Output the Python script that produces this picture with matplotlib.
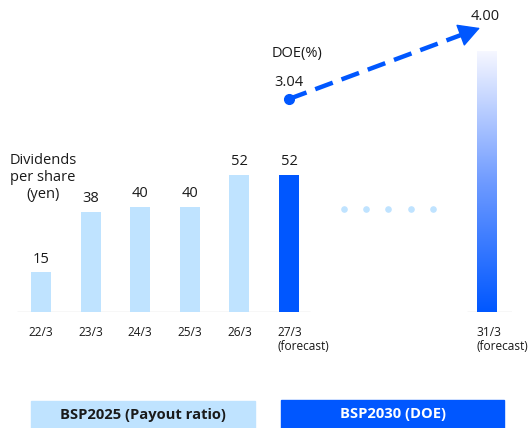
import numpy as np
import matplotlib
matplotlib.use("Agg")
from matplotlib import pyplot as plt
from matplotlib.colors import LinearSegmentedColormap
from matplotlib.patches import Rectangle

plt.rcParams['font.family'] = ['Open Sans', 'DejaVu Sans']

years = ["22/3", "23/3", "24/3", "25/3", "26/3", "27/3\n(forecast)"]
dividends = [15, 38, 40, 40, 52, 52]
target_label = "31/3\n(forecast)"
target_height = 99  # drawn height of the 2031 bar (no value shown)
doe_start = 3.04
doe_end = 4.00

blue = "#0057FF"
light = "#BFE3FF"

fig = plt.figure(figsize=(5.29, 4.28), dpi=100)
ax = fig.add_axes([17 / 529, 116 / 428, 495 / 529, 312 / 428])
ax.set_xlim(-0.484, 9.496)
ax.set_ylim(0, 118.4)
ax.axis("off")

x = np.arange(len(years))
colors = [light] * 5 + [blue]
ax.bar(x, dividends, width=0.4, color=colors, zorder=2)
for xi, v in zip(x, dividends):
    ax.annotate(str(v), (xi, v), xytext=(0, 4), textcoords="offset points",
                ha="center", va="bottom", fontsize=10.5, color="#1a1a1a")

# gradient bar for 31/3
x_t = 9
grad = np.linspace(0, 1, 256).reshape(-1, 1)
cmap = LinearSegmentedColormap.from_list("g", [blue, "#6f9bff", "#f6f7ff"])
ax.imshow(grad, cmap=cmap, aspect="auto", origin="lower",
          extent=(x_t - 0.2, x_t + 0.2, 0, target_height), zorder=2)

# baseline segments
ax.hlines(0, -0.484, 5.42, color="#d9d9d9", lw=1, zorder=1)
ax.hlines(0, 8.59, 9.5, color="#d9d9d9", lw=1, zorder=1)

# tick labels
for xi, lab in zip(x, years):
    if "\n" in lab:
        ax.annotate(lab, (xi - 0.24, 0), xytext=(0, -10), textcoords="offset points",
                    ha="left", va="top", fontsize=8.6, color="#1a1a1a", linespacing=1.15)
    else:
        ax.annotate(lab, (xi, 0), xytext=(0, -10), textcoords="offset points",
                    ha="center", va="top", fontsize=8.6, color="#1a1a1a")
ax.annotate(target_label, (x_t - 0.22, 0), xytext=(0, -10), textcoords="offset points",
            ha="left", va="top", fontsize=8.6, color="#1a1a1a", linespacing=1.15)

ax.text(0.04, 51, "Dividends\nper share\n(yen)", ha="center", va="center",
        fontsize=10.5, color="#1a1a1a", linespacing=1.2)

# dotted gap
ax.scatter(np.linspace(6.1, 7.9, 5), [39.2] * 5, s=14, color=light, zorder=2)

# DOE arrow on a second scale
ax2 = ax.twinx()
ax2.set_ylim(0.16, 4.378)
ax2.axis("off")
x_end = 8.85
x_head = 8.55
y_head = doe_start + (doe_end - doe_start) * (x_head - 5) / (x_end - 5)
ax2.plot([5, x_head], [doe_start, y_head], color=blue, lw=3.2,
         linestyle=(0, (4.2, 2.1)), solid_capstyle="butt", dash_capstyle="butt")
ax2.plot([5], [doe_start], marker="o", ms=7, color=blue)
ax2.annotate("", xy=(x_end, doe_end), xytext=(x_head, y_head),
             arrowprops=dict(arrowstyle="-|>,head_length=0.55,head_width=0.3",
                             color=blue, lw=1, shrinkA=0, shrinkB=0,
                             mutation_scale=25))
ax2.annotate(f"{doe_start:.2f}", (5, doe_start), xytext=(0, 11.5), textcoords="offset points",
             ha="center", va="center", fontsize=10.5, color="#1a1a1a")
ax2.annotate("DOE(%)", (5, doe_start), xytext=(6, 32.5), textcoords="offset points",
             ha="center", va="center", fontsize=10.5, color="#1a1a1a")
ax2.annotate(f"{doe_end:.2f}", (x_end, doe_end), xytext=(4, 8.5), textcoords="offset points",
             ha="center", va="center", fontsize=10.5, color="#1a1a1a")

# bottom plan boxes
fig.patches.append(Rectangle((31 / 529, 0), 224 / 529, 27 / 428, transform=fig.transFigure,
                             color=light, zorder=0))
fig.patches.append(Rectangle((281 / 529, 0), 223 / 529, 28 / 428, transform=fig.transFigure,
                             color=blue, zorder=0))
fig.text(143 / 529, 13.5 / 428, "BSP2025 (Payout ratio)", ha="center", va="center",
         fontsize=10.6, fontweight="bold", color="#1a1a1a")
fig.text(392.5 / 529, 14 / 428, "BSP2030 (DOE)", ha="center", va="center",
         fontsize=10.6, fontweight="bold", color="white")

fig.savefig("out.png", dpi=100)
